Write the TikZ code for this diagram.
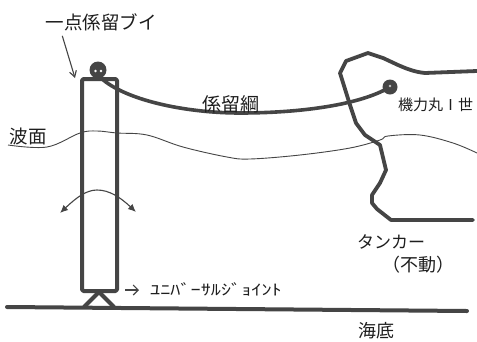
\documentclass[tikz,border=0pt]{standalone}
\usepackage{fontspec}
\newfontfamily\jp{Noto Sans CJK JP}
\newfontfamily\jpwide{Noto Sans CJK JP}[FakeStretch=1.35]
\usetikzlibrary{arrows.meta,calc}
\definecolor{ink}{HTML}{454545}
\definecolor{txt}{HTML}{1E1E1E}
\tikzset{
  heavy/.style={draw=ink, line width=4pt, line join=round, line cap=round},
  fine/.style={draw=ink, line width=1.1pt},
  lbl/.style={text=txt, inner sep=0pt, font=\jp},
}
\begin{document}
\begin{tikzpicture}[x=1pt,y=-1pt]
\useasboundingbox[fill=white] (0,0) rectangle (477,341);

% sea surface
\draw[fine, line width=0.9pt] plot[smooth, tension=0.6] coordinates
  {(8,145) (47,147) (80,133) (97,131) (117,133) (147,135) (183,147)
   (227,157) (250,159) (300,155) (350,148) (380,140) (388,136)
   (420,135) (453,143) (477,153)};

% sea bed
\draw[heavy] (7,307) -- (467,311);

% buoy column and universal joint
\draw[heavy, rounded corners=1.5pt] (82,79) rectangle (117,291);
\draw[heavy, line cap=butt] (84,307) -- (99,292) -- (114,307);

% buoy head
\fill[ink] (98,70) circle (8.5);
\fill[white] (95.5,71) circle (1.3);
\fill[white] (101,71) circle (1.3);

% tanker outline
\draw[heavy, line width=3.8pt] (477,71) -- (425,73) .. controls (414,72) and (405,68) .. (398,65)
  -- (383,58) -- (368,53) -- (346,61) -- (340,73) -- (350,105) -- (356,123)
  -- (365,135) -- (380,145) -- (386,170) -- (380,183) -- (372,195)
  -- (372,203) -- (377,209) -- (391,220) -- (473,220);

% mooring hawser
\draw[heavy, line width=3.6pt] (101,78) .. controls (125,100) and (185,113) .. (240,113)
  .. controls (300,113) and (360,105) .. (390,87);
\fill[ink] (390,87) circle (7.5);
\fill[gray!45] (390,86) circle (1.3);

% swing of the column
\draw[fine, {Latex[length=8pt,width=7pt]}-{Latex[length=8pt,width=7pt]}]
  (60,213) .. controls (76,198) and (86,190) .. (97,190)
  .. controls (109,190) and (120,197) .. (136,212);

% labels
\node[lbl, font=\jp\fontsize{18.5}{20}\selectfont] (buoy) at (101,22) {一点係留ブイ};
\coordinate (buoytop) at (75,78);
\draw[fine, -{Straight Barb[length=6pt,width=7pt]}] ($(buoy.south west)+(17,5)$) -- (buoytop);

\node[lbl, font=\jp\fontsize{19}{20}\selectfont] (rope) at (231,104) {係留綱};
\node[lbl, font=\jp\fontsize{18.5}{20}\selectfont] (wave) at (28,136) {波面};
\node[lbl, anchor=west, font=\jp\fontsize{15}{16}\selectfont] (ship) at (398,105) {機力丸Ⅰ世};
\node[lbl, anchor=west, font=\jp\fontsize{17}{18}\selectfont] (tanker) at (357,242) {タンカー};
\node[lbl, font=\jp\fontsize{18}{20}\selectfont] (fixed) at (418,265) {（不動）};
\node[lbl, font=\jp\fontsize{18}{20}\selectfont] (bed) at (376,331) {海底};

\node[lbl, anchor=west, font=\jpwide\fontsize{15}{16}\selectfont] (uj) at (150,289) {ﾕﾆﾊﾞｰｻﾙｼﾞｮｲﾝﾄ};
\draw[fine, -{Straight Barb[length=5pt,width=10pt]}] ($(uj.west)+(-25,1)$) -- ($(uj.west)+(-11,1)$);
\end{tikzpicture}
\end{document}
